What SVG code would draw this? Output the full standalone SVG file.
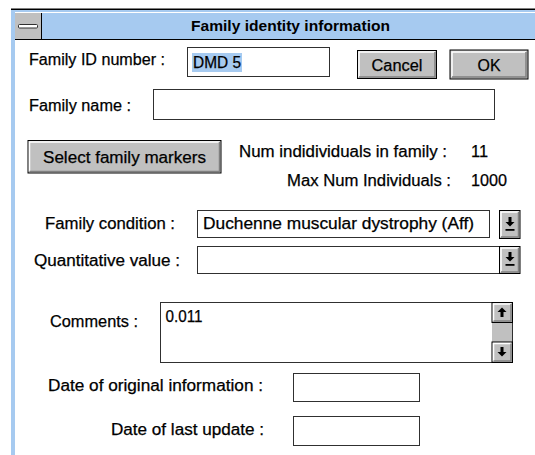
<svg xmlns="http://www.w3.org/2000/svg" width="535" height="455" viewBox="0 0 535 455">
<style>
text{font-family:"Liberation Sans",Arial,sans-serif;font-size:16px;fill:#000;stroke:#000;stroke-width:0.25}
.title{font-weight:bold;font-size:15.5px;stroke-width:0}
.field{fill:#fff;stroke:#303030;stroke-width:1}
.btn{fill:#c0c0c0;stroke:#000;stroke-width:1}
.hi{fill:none;stroke:#fff;stroke-width:1.5}
.sh{fill:none;stroke:#808080;stroke-width:1.5}
.glyph{fill:#000}
</style>
<defs>
<g id="downArrow">
<rect x="-1.5" y="-6" width="3" height="5"/>
<polygon points="-4.5,-1 4.5,-1 0,3.5"/>
</g>
<g id="upArrow">
<rect x="-1.5" y="1" width="3" height="5"/>
<polygon points="-4.5,1 4.5,1 0,-3.5"/>
</g>
</defs>
<rect width="535" height="455" fill="#fff"/>
<g id="window-frame">
<rect x="11" y="10" width="4" height="445" fill="#a6caf0"/>
<rect x="11" y="8.5" width="524" height="1.5" fill="#000"/>
<rect x="11" y="10" width="524" height="29" fill="#a6caf0"/>
<line x1="15" y1="12.5" x2="535" y2="12.5" stroke="#fff" stroke-width="1"/>
<rect x="15" y="39" width="520" height="1" fill="#000"/>
</g>
<g id="system-menu">
<rect x="15" y="13" width="26" height="26" fill="#c0c0c0"/>
<rect x="41" y="13" width="1" height="26" fill="#000"/>
<rect x="18.5" y="24.5" width="19" height="3.5" fill="#fff" stroke="#303030" stroke-width="1" rx="1"/>
</g>
<g id="title">
<text class="title" x="290.5" y="30.5" text-anchor="middle" textLength="199" lengthAdjust="spacingAndGlyphs">Family identity information</text>
</g>
<g id="family-id">
<text x="29" y="65" textLength="136" lengthAdjust="spacingAndGlyphs">Family ID number :</text>
<rect class="field" x="187.5" y="47.5" width="142" height="29"/>
<rect x="192" y="53" width="50" height="19" fill="#a6caf0"/>
<text x="193" y="68" textLength="48" lengthAdjust="spacingAndGlyphs">DMD 5</text>
</g>
<g id="cancel-button">
<rect class="btn" x="357.5" y="50.5" width="79" height="28"/>
<polyline class="hi" points="359,77 359,52 435,52"/>
<polyline class="sh" points="359,77 435,77 435,52"/>
<text x="397" y="71" text-anchor="middle" textLength="51" lengthAdjust="spacingAndGlyphs">Cancel</text>
</g>
<g id="ok-button">
<rect class="btn" x="450" y="50" width="78" height="29" stroke-width="2"/>
<polyline class="hi" points="452,77 452,52 526,52"/>
<polyline class="sh" points="452,77 526,77 526,52"/>
<text x="489" y="71" text-anchor="middle" textLength="23" lengthAdjust="spacingAndGlyphs">OK</text>
</g>
<g id="family-name">
<text x="29" y="111" textLength="102" lengthAdjust="spacingAndGlyphs">Family name :</text>
<rect class="field" x="153.5" y="89.5" width="341" height="30"/>
</g>
<g id="select-markers-button">
<rect class="btn" x="28" y="140.5" width="193" height="32.5"/>
<polyline class="hi" points="29.5,171.5 29.5,142 219.5,142"/>
<polyline class="sh" points="29.5,171.5 219.5,171.5 219.5,142"/>
<text x="124.5" y="163" text-anchor="middle" textLength="163" lengthAdjust="spacingAndGlyphs">Select family markers</text>
</g>
<g id="num-individuals">
<text x="239" y="157" textLength="208" lengthAdjust="spacingAndGlyphs">Num indidividuals in family :</text>
<text x="471" y="157" textLength="17" lengthAdjust="spacingAndGlyphs">11</text>
</g>
<g id="max-individuals">
<text x="287" y="186" textLength="164" lengthAdjust="spacingAndGlyphs">Max Num Individuals :</text>
<text x="471" y="186" textLength="36" lengthAdjust="spacingAndGlyphs">1000</text>
</g>
<g id="family-condition">
<text x="45" y="229" textLength="130" lengthAdjust="spacingAndGlyphs">Family condition :</text>
<rect class="field" x="197.5" y="210.5" width="292" height="27"/>
<text x="203" y="229" textLength="271" lengthAdjust="spacingAndGlyphs">Duchenne muscular dystrophy (Aff)</text>
<rect class="btn" x="499.5" y="210.5" width="20.5" height="28"/>
<polyline class="hi" points="501,237 501,212 518.5,212"/>
<polyline class="sh" points="501,237 518.5,237 518.5,212"/>
<use href="#downArrow" class="glyph" x="510" y="223"/>
<rect x="505.5" y="229" width="9" height="1.8" class="glyph"/>
</g>
<g id="quantitative-value">
<text x="34" y="266" textLength="146" lengthAdjust="spacingAndGlyphs">Quantitative value :</text>
<rect class="field" x="197.5" y="246.5" width="302" height="27"/>
<rect class="btn" x="499.5" y="246.5" width="20.5" height="27"/>
<polyline class="hi" points="501,272 501,248 518.5,248"/>
<polyline class="sh" points="501,272 518.5,272 518.5,248"/>
<use href="#downArrow" class="glyph" x="510" y="258"/>
<rect x="505.5" y="264" width="9" height="1.8" class="glyph"/>
</g>
<g id="comments">
<text x="50" y="327" textLength="88" lengthAdjust="spacingAndGlyphs">Comments :</text>
<rect class="field" x="160.5" y="302.5" width="352" height="60"/>
<text x="165.5" y="321.5" textLength="37" lengthAdjust="spacingAndGlyphs">0.011</text>
<rect x="492" y="322" width="20" height="20" fill="#c0c0c0"/>
<rect class="btn" x="492" y="302.5" width="20.5" height="20"/>
<polyline class="hi" points="493.5,321 493.5,304 511,304"/>
<polyline class="sh" points="493.5,321 511,321 511,304"/>
<use href="#upArrow" class="glyph" x="502" y="311"/>
<rect class="btn" x="492" y="342" width="20.5" height="20.5"/>
<polyline class="hi" points="493.5,361 493.5,343.5 511,343.5"/>
<polyline class="sh" points="493.5,361 511,361 511,343.5"/>
<use href="#downArrow" class="glyph" x="502" y="353"/>
</g>
<g id="date-original">
<text x="48" y="391" textLength="215" lengthAdjust="spacingAndGlyphs">Date of original information :</text>
<rect class="field" x="293.5" y="373.5" width="126" height="28"/>
</g>
<g id="date-last-update">
<text x="111" y="434.5" textLength="153" lengthAdjust="spacingAndGlyphs">Date of last update :</text>
<rect class="field" x="293.5" y="416.5" width="126" height="29"/>
</g>
</svg>
